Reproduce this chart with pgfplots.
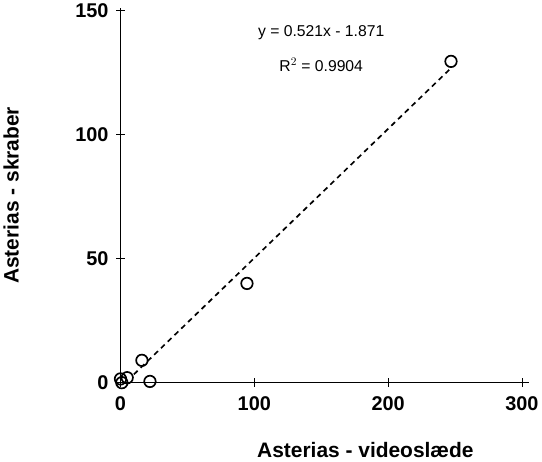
\documentclass[border=0pt]{standalone}
\usepackage{pgfplots}
\pgfplotsset{compat=1.18}
\usepackage{fontspec}
\setmainfont{Liberation Sans}
\begin{document}
\begin{tikzpicture}
\begin{axis}[
  width=390pt, height=358pt, scale only axis,
  axis lines=left, axis line style={-, thick},
  xmin=0, xmax=305, ymin=0, ymax=151,
  xtick={0,100,200,300}, ytick={0,50,100,150},
  tick style={thick, black}, tick align=center, major tick length=8pt,
  /pgf/number format/assume math mode=true,
  ticklabel style={font=\bfseries\fontsize{19}{22}\selectfont},
  xticklabel style={yshift=-6pt},
  yticklabel style={xshift=-4pt},
  xlabel={\textbf{Asterias - videoslæde}}, ylabel={\textbf{Asterias - skraber}},
  label style={font=\bfseries\fontsize{20}{24}\selectfont},
  xlabel style={at={(axis description cs:0.6,-0.15)}, anchor=north},
  ylabel style={at={(axis description cs:-0.24,0.5)}, anchor=south},
  clip=false,
]
\addplot[only marks, mark=o, mark size=5.5pt, line width=1.6pt] coordinates {
(0,1.5) (1,0) (5,2) (16,9) (22,0.5) (94.5,40) (247,129.5)};
\addplot[line width=1.6pt, dash pattern=on 5pt off 4pt] coordinates {(10,3.34) (247,126.8)};
\node[font=\fontsize{15}{18}\selectfont] at (axis cs:150,141) {y = 0.521x - 1.871};
\node[font=\fontsize{15}{18}\selectfont] at (axis cs:150,128) {R$^2$ = 0.9904};
\end{axis}
\end{tikzpicture}
\end{document}
